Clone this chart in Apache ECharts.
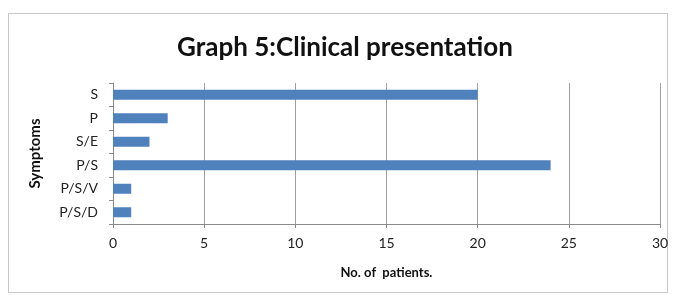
<!DOCTYPE html>
<html>
<head>
<meta charset="utf-8">
<script src="https://cdn.jsdelivr.net/npm/echarts@6/dist/echarts.min.js"></script>
<style>
  html, body { margin: 0; padding: 0; background: #fff; }
  #frame { position: absolute; left: 8px; top: 13px; width: 660px; height: 280px; border: 1px solid #c8c8c8; box-sizing: border-box; }
  #chart { position: absolute; left: 0; top: 0; width: 676px; height: 295px; }
</style>
</head>
<body>
<div id="frame"></div>
<div id="chart"></div>
<script>
var symptoms = ["S", "P", "S/E", "P/S", "P/S/V", "P/S/D"];
var patients = [20, 3, 2, 24, 1, 1];
var xTicks = [0, 5, 10, 15, 20, 25, 30];

var chart = echarts.init(document.getElementById("chart"));
var option = {
    title: {
        text: "Graph 5:Clinical presentation",
        left: 340,
        top: 30,
        textAlign: "center",
        textStyle: { fontFamily: "Lato", fontWeight: "bold", fontSize: 26, color: "#111" }
    },
    grid: { left: 113, right: 16, top: 83, bottom: 71 },
    xAxis: {
        type: "value",
        min: xTicks[0],
        max: xTicks[xTicks.length - 1],
        interval: 5,
        name: "No. of  patients.",
        nameLocation: "middle",
        nameGap: 42,
        nameTextStyle: { fontFamily: "Lato", fontWeight: "bold", fontSize: 13, color: "#111" },
        axisLine: { show: true, lineStyle: { color: "#8a8a8a" } },
        axisTick: { show: true, length: 4, lineStyle: { color: "#8a8a8a" } },
        axisLabel: { fontFamily: "Lato", fontSize: 14, color: "#222", margin: 12 },
        splitLine: { show: true, lineStyle: { color: "#a0a0a0" } }
    },
    yAxis: {
        type: "category",
        data: symptoms,
        inverse: true,
        name: "Symptoms",
        nameLocation: "middle",
        nameGap: 70,
        nameRotate: 90,
        nameTextStyle: { fontFamily: "Lato", fontWeight: "bold", fontSize: 15, color: "#111" },
        axisLine: { show: true, lineStyle: { color: "#8a8a8a" } },
        axisTick: { show: true, length: 4, lineStyle: { color: "#8a8a8a" } },
        axisLabel: { fontFamily: "Lato", fontSize: 14, color: "#222", margin: 15 }
    },
    series: [{
        type: "bar",
        data: patients,
        barWidth: 10,
        itemStyle: { color: "#4f81bd" }
    }]
};
chart.setOption(option);
</script>
</body>
</html>
